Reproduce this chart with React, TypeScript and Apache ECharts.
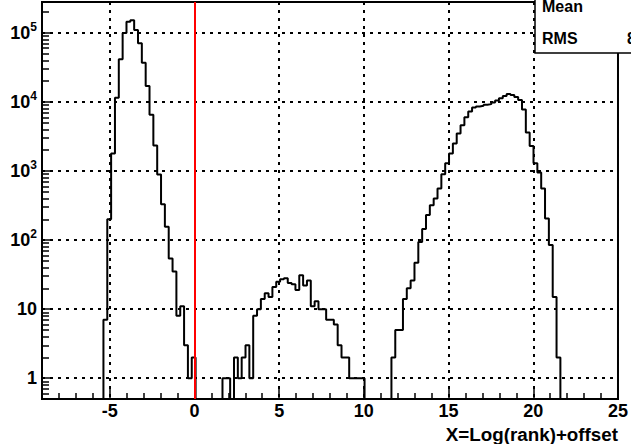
import React, { useEffect, useRef } from "react";
import * as echarts from "echarts";

// Histogram definition: 150 bins from -9 to 25
const X_MIN = -9;
const X_MAX = 25;
const N_BINS = 150;
const Y_MIN = 0.5;
const Y_MAX = 2.8e5;

// Bin contents (three non-empty regions)
const leftPeakStartBin = 16;
const leftPeak = [7, 200, 1800, 11500, 41500, 100000, 145000, 152000, 110000, 71000, 37000, 17000, 6500, 2340, 890, 330, 156, 54, 35, 8, 11, 3, 1, 2];

const middleStartBin = 47;
const middleBump = [1, 1, 0, 2, 1, 2, 3, 1, 8, 10, 14, 17, 15, 21, 25, 27, 28, 24, 23, 19, 31, 22, 26, 11, 13, 10, 10, 7, 7, 6, 3, 2, 2, 1, 1, 1, 1];

const rightPeakStartBin = 91;
const rightPeak = [2, 5, 5, 14, 20, 26, 47, 94, 145, 230, 320, 400, 560, 900, 1300, 1800, 2500, 3500, 4600, 6000, 7300, 8300, 8600, 8800, 9100, 9300, 9800, 10500, 11300, 12200, 13000, 12600, 11800, 10700, 7800, 3600, 2300, 1300, 950, 560, 205, 85, 15, 2];

// Axis ticks
const xMajorTicks = [-5, 0, 5, 10, 15, 20, 25];
const xMinorTicks = [-9, -8, -7, -6, -4, -3, -2, -1, 1, 2, 3, 4, 6, 7, 8, 9, 11, 12, 13, 14, 16, 17, 18, 19, 21, 22, 23, 24];
const yDecadeExponents = [0, 1, 2, 3, 4, 5];
const yMinorMultipliers = [2, 3, 4, 5, 6, 7, 8, 9];
const yMinorDecades = [-1, 0, 1, 2, 3, 4, 5];

const cutValue = 0;
const xTitle = "X=Log(rank)+offset";
const statsNames = ["Mean", "RMS"];
const rmsValueVisible = "8";

const FONT = "'Liberation Sans', Arial, Helvetica, sans-serif";

function buildCounts(): number[] {
  const counts = new Array(N_BINS).fill(0);
  leftPeak.forEach((v, i) => (counts[leftPeakStartBin + i] = v));
  middleBump.forEach((v, i) => (counts[middleStartBin + i] = v));
  rightPeak.forEach((v, i) => (counts[rightPeakStartBin + i] = v));
  return counts;
}

export default function App() {
  const ref = useRef<HTMLDivElement>(null);
  useEffect(() => {
    if (!ref.current) return;
    const chart = echarts.init(ref.current, undefined, { renderer: "svg", width: 631, height: 444 });
    const counts = buildCounts();
    const w = (X_MAX - X_MIN) / N_BINS;
    const yLo = Math.log10(Y_MIN);
    const yHi = Math.log10(Y_MAX);
    const below = yLo - 2;
    const toY = (c: number) => (c > 0 ? Math.log10(c) : below);
    const data: number[][] = counts.map((c, k) => [X_MIN + k * w, toY(c)]);
    data.push([X_MAX, toY(counts[N_BINS - 1])]);

    const yMinor: number[] = [];
    yMinorDecades.forEach((d) =>
      yMinorMultipliers.forEach((m) => {
        const v = m * Math.pow(10, d);
        if (v >= Y_MIN && v <= Y_MAX) yMinor.push(Math.log10(v));
      })
    );

    const black = "#000";
    const labelStyle = { fontFamily: FONT, fontWeight: "bold" as const, fontSize: 18, color: black };

    chart.setOption({
      animation: false,
      backgroundColor: "#fff",
      grid: {
        left: 42,
        right: 9,
        top: 2,
        bottom: 45,
        show: true,
        borderColor: black,
        borderWidth: 2,
        backgroundColor: "transparent",
      },
      xAxis: [
        {
          type: "value",
          position: "bottom",
          min: X_MIN,
          max: X_MAX,
          axisLine: { show: true, onZero: false, lineStyle: { color: black, width: 2 } },
          axisTick: { show: true, inside: true, length: 12, customValues: xMajorTicks, lineStyle: { color: black, width: 1.5 } },
          axisLabel: { show: true, customValues: xMajorTicks, margin: 3, ...labelStyle, formatter: (v: number) => String(v) },
          splitLine: { show: true, lineStyle: { color: black, width: 2, type: [3, 5] } },
        },
        {
          type: "value",
          position: "bottom",
          min: X_MIN,
          max: X_MAX,
          axisLine: { show: false, onZero: false },
          axisTick: { show: true, inside: true, length: 6, customValues: xMinorTicks, lineStyle: { color: black, width: 1.5 } },
          axisLabel: { show: false },
          splitLine: { show: false },
        },
      ],
      yAxis: [
        {
          type: "value",
          position: "left",
          min: yLo,
          max: yHi,
          axisLine: { show: true, onZero: false, lineStyle: { color: black, width: 2 } },
          axisTick: { show: true, inside: true, length: 10, customValues: yDecadeExponents, lineStyle: { color: black, width: 1.5 } },
          axisLabel: {
            show: true,
            customValues: yDecadeExponents,
            margin: 5,
            formatter: (v: number) => {
              const e = Math.round(v);
              if (e === 0) return "{b|1}";
              if (e === 1) return "{b|10}";
              return "{b|10}{sup|" + e + "}";
            },
            rich: {
              b: { ...labelStyle, lineHeight: 24 },
              sup: { fontFamily: FONT, fontWeight: "bold", fontSize: 12, color: black, verticalAlign: "top", lineHeight: 12 },
            },
          },
          splitLine: { show: true, lineStyle: { color: black, width: 2, type: [3, 5] } },
        },
        {
          type: "value",
          position: "left",
          min: yLo,
          max: yHi,
          axisLine: { show: false, onZero: false },
          axisTick: { show: true, inside: true, length: 7, customValues: yMinor, lineStyle: { color: black, width: 1.5 } },
          axisLabel: { show: false },
          splitLine: { show: false },
        },
      ],
      series: [
        {
          type: "line",
          xAxisIndex: 0,
          yAxisIndex: 0,
          data,
          step: "end",
          showSymbol: false,
          symbol: "none",
          clip: true,
          lineStyle: { color: black, width: 2 },
          z: 3,
          markLine: {
            silent: true,
            symbol: ["none", "none"],
            label: { show: false },
            lineStyle: { color: "#ff0000", width: 2, type: "solid" },
            data: [{ xAxis: cutValue }],
            z: 4,
          },
        },
      ],
      graphic: [
        {
          type: "rect",
          z: 100,
          shape: { x: 535, y: -5, width: 110, height: 58 },
          style: { fill: "#fff", stroke: black, lineWidth: 1.5 },
        },
        {
          type: "text",
          z: 101,
          x: 542,
          y: 6,
          style: { text: statsNames[0], fontFamily: FONT, fontWeight: "bold", fontSize: 16, fill: black, verticalAlign: "middle" },
        },
        {
          type: "text",
          z: 101,
          x: 542,
          y: 38.5,
          style: { text: statsNames[1], fontFamily: FONT, fontWeight: "bold", fontSize: 16, fill: black, verticalAlign: "middle" },
        },
        {
          type: "text",
          z: 101,
          x: 627,
          y: 38.5,
          style: { text: rmsValueVisible, fontFamily: FONT, fontWeight: "bold", fontSize: 16, fill: black, verticalAlign: "middle" },
        },
        {
          type: "text",
          z: 101,
          x: 618,
          y: 434,
          style: { text: xTitle, fontFamily: FONT, fontWeight: "bold", fontSize: 18.8, fill: black, align: "right", verticalAlign: "middle" },
        },
      ],
    });
    return () => chart.dispose();
  }, []);
  return (
    <div
      ref={ref}
      style={{ position: "fixed", left: 0, top: 0, width: 631, height: 444, background: "#fff" }}
    />
  );
}
